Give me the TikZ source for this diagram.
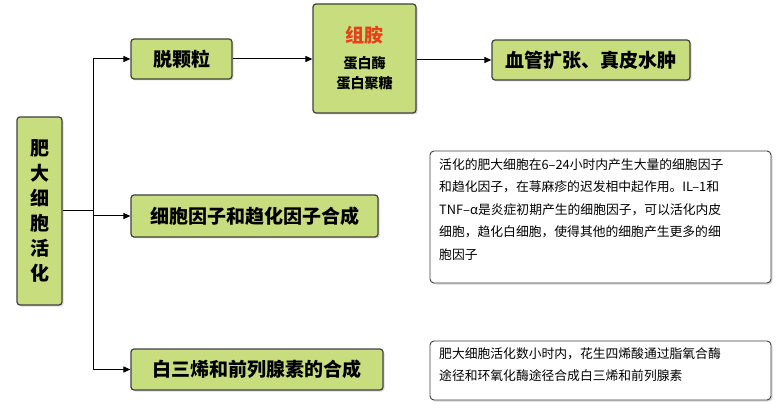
\documentclass[tikz,border=0pt]{standalone}
\usepackage{fontspec}
\setmainfont{Noto Sans CJK SC}
\usetikzlibrary{arrows.meta,shadows}
\definecolor{boxg}{HTML}{C8DE7E}
\definecolor{histred}{HTML}{E8401C}
\begin{document}
\begin{tikzpicture}[x=1pt,y=-1pt,
  gbox/.style={draw=black!75,line width=1.2pt,fill=boxg,rounded corners=3pt,drop shadow={opacity=0.3,shadow xshift=1.5pt,shadow yshift=-1.5pt},font=\fontsize{19}{21}\selectfont\bfseries,align=center,inner sep=0pt},
  tbox/.style={draw=black!75,line width=0.9pt,fill=white,rounded corners=4pt,drop shadow={opacity=0.3,shadow xshift=1.5pt,shadow yshift=-1.5pt},inner sep=0pt},
  ttext/.style={font=\fontsize{12.8}{22.5}\selectfont,align=left,inner sep=0pt,anchor=north west},
  arr/.style={-{Triangle[length=7pt,width=6pt]},line width=1pt}]
\useasboundingbox (0,0) rectangle (782,414);
\node[gbox,minimum width=45pt,minimum height=188pt] (mast) at (39.5,211) {肥\\[4pt]大\\[4pt]细\\[4pt]胞\\[4pt]活\\[4pt]化};
\node[gbox,minimum width=101pt,minimum height=40pt] (deg) at (181.5,59) {脱颗粒};
\node[gbox,minimum width=103pt,minimum height=109pt,font=\fontsize{14}{20}\selectfont\bfseries] (hist) at (364.5,58.5) {{\fontsize{19}{21}\selectfont\color{histred}组胺}\\[6pt]蛋白酶\\蛋白聚糖};
\node[gbox,minimum width=198pt,minimum height=40pt] (vas) at (591,60) {血管扩张、真皮水肿};
\node[gbox,minimum width=247pt,minimum height=42pt] (cyt) at (254.5,216) {细胞因子和趋化因子合成};
\node[gbox,minimum width=252pt,minimum height=41pt] (leu) at (257,369.5) {白三烯和前列腺素的合成};
\node[tbox,minimum width=341pt,minimum height=132pt] (t1) at (600.5,217) {};
\node[ttext] (t1text) at (439,158) {活化的肥大细胞在6–24小时内产生大量的细胞因子\\和趋化因子，在荨麻疹的迟发相中起作用。IL–1和\\TNF–α是炎症初期产生的细胞因子，可以活化内皮\\细胞，趋化白细胞，使得其他的细胞产生更多的细\\胞因子};
\node[tbox,minimum width=341pt,minimum height=59pt] (t2) at (600.5,370.5) {};
\node[ttext] (t2text) at (439,347) {肥大细胞活化数小时内，花生四烯酸通过脂氧合酶\\途径和环氧化酶途径合成白三烯和前列腺素};
\coordinate (top) at (93,59);
\coordinate (mid) at (93,216);
\coordinate (bot) at (93,369.5);
\draw[line width=1pt] (mast.east) -- (mast.east -| mid);
\draw[line width=1pt] (top) -- (bot);
\draw[arr] (top) -- (deg);
\draw[arr] (mid) -- (cyt);
\draw[arr] (bot) -- (leu);
\draw[arr] (deg) -- (hist.west |- deg.east);
\draw[arr] (hist.east |- vas.west) -- (vas);
\end{tikzpicture}
\end{document}
